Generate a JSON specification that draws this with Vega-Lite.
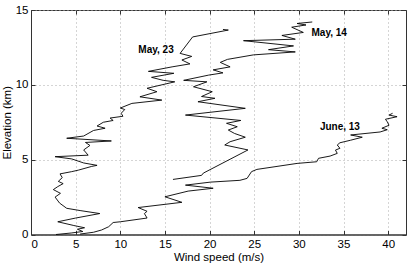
{
  "$schema": "https://vega.github.io/schema/vega-lite/v6.json",
  "width": 375,
  "height": 224.5,
  "autosize": {"type": "none"},
  "padding": {"left": 31, "top": 10, "right": 3, "bottom": 29.5},
  "background": "white",
  "config": {
    "font": "Liberation Sans",
    "view": {"stroke": "#333333", "strokeWidth": 1},
    "axis": {
      "grid": true,
      "gridColor": "#aaaaaa",
      "gridDash": [1, 3],
      "gridWidth": 1,
      "domainColor": "#333333",
      "tickColor": "#333333",
      "tickSize": -4,
      "labelFont": "Liberation Sans",
      "labelFontSize": 11.5,
      "labelColor": "#000000",
      "titleFont": "Liberation Sans",
      "titleFontSize": 11.5,
      "titleFontWeight": "normal",
      "titleColor": "#000000"
    }
  },
  "datasets": {
    "profiles": [
      {"s": "May, 23", "x": 2.8, "h": 0.0},
      {"s": "May, 23", "x": 4.5, "h": 0.1},
      {"s": "May, 23", "x": 5.8, "h": 0.2},
      {"s": "May, 23", "x": 5.2, "h": 0.35},
      {"s": "May, 23", "x": 6.0, "h": 0.45},
      {"s": "May, 23", "x": 4.8, "h": 0.6},
      {"s": "May, 23", "x": 3.0, "h": 0.85},
      {"s": "May, 23", "x": 5.0, "h": 1.1},
      {"s": "May, 23", "x": 7.7, "h": 1.4},
      {"s": "May, 23", "x": 5.5, "h": 1.6},
      {"s": "May, 23", "x": 4.0, "h": 1.75},
      {"s": "May, 23", "x": 3.2, "h": 2.1},
      {"s": "May, 23", "x": 2.7, "h": 2.5},
      {"s": "May, 23", "x": 3.3, "h": 2.75},
      {"s": "May, 23", "x": 2.5, "h": 3.0},
      {"s": "May, 23", "x": 3.0, "h": 3.2},
      {"s": "May, 23", "x": 3.6, "h": 3.4},
      {"s": "May, 23", "x": 3.06, "h": 3.55},
      {"s": "May, 23", "x": 3.5, "h": 3.8},
      {"s": "May, 23", "x": 3.25, "h": 4.05},
      {"s": "May, 23", "x": 4.56, "h": 4.2},
      {"s": "May, 23", "x": 5.3, "h": 4.3},
      {"s": "May, 23", "x": 6.8, "h": 4.55},
      {"s": "May, 23", "x": 7.4, "h": 4.62},
      {"s": "May, 23", "x": 5.9, "h": 4.78},
      {"s": "May, 23", "x": 4.56, "h": 5.05},
      {"s": "May, 23", "x": 2.7, "h": 5.2},
      {"s": "May, 23", "x": 6.4, "h": 5.3},
      {"s": "May, 23", "x": 5.9, "h": 5.65},
      {"s": "May, 23", "x": 6.6, "h": 5.95},
      {"s": "May, 23", "x": 6.1, "h": 6.15},
      {"s": "May, 23", "x": 9.0, "h": 6.25},
      {"s": "May, 23", "x": 4.0, "h": 6.43},
      {"s": "May, 23", "x": 5.9, "h": 6.58},
      {"s": "May, 23", "x": 7.0, "h": 6.95},
      {"s": "May, 23", "x": 8.3, "h": 7.1},
      {"s": "May, 23", "x": 7.4, "h": 7.25},
      {"s": "May, 23", "x": 8.1, "h": 7.5},
      {"s": "May, 23", "x": 9.2, "h": 7.62},
      {"s": "May, 23", "x": 8.86, "h": 7.78},
      {"s": "May, 23", "x": 10.3, "h": 7.9},
      {"s": "May, 23", "x": 10.1, "h": 8.1},
      {"s": "May, 23", "x": 10.5, "h": 8.35},
      {"s": "May, 23", "x": 10.0, "h": 8.45},
      {"s": "May, 23", "x": 11.3, "h": 8.76},
      {"s": "May, 23", "x": 14.65, "h": 8.98},
      {"s": "May, 23", "x": 12.2, "h": 9.2},
      {"s": "May, 23", "x": 14.1, "h": 9.54},
      {"s": "May, 23", "x": 13.0, "h": 9.77},
      {"s": "May, 23", "x": 16.1, "h": 10.2},
      {"s": "May, 23", "x": 14.8, "h": 10.3},
      {"s": "May, 23", "x": 13.5, "h": 10.5},
      {"s": "May, 23", "x": 16.0, "h": 10.77},
      {"s": "May, 23", "x": 13.15, "h": 10.9},
      {"s": "May, 23", "x": 15.8, "h": 11.2},
      {"s": "May, 23", "x": 17.8, "h": 11.4},
      {"s": "May, 23", "x": 16.9, "h": 11.66},
      {"s": "May, 23", "x": 18.0, "h": 11.9},
      {"s": "May, 23", "x": 16.7, "h": 12.1},
      {"s": "May, 23", "x": 18.1, "h": 13.2},
      {"s": "May, 23", "x": 22.1, "h": 13.66},
      {"s": "May, 23", "x": 21.5, "h": 13.7},
      {"s": "May, 14", "x": 15.9, "h": 3.68},
      {"s": "May, 14", "x": 19.1, "h": 3.95},
      {"s": "May, 14", "x": 19.3, "h": 4.1},
      {"s": "May, 14", "x": 24.3, "h": 5.65},
      {"s": "May, 14", "x": 21.7, "h": 5.98},
      {"s": "May, 14", "x": 22.3, "h": 6.2},
      {"s": "May, 14", "x": 24.0, "h": 6.5},
      {"s": "May, 14", "x": 22.8, "h": 6.75},
      {"s": "May, 14", "x": 22.1, "h": 6.98},
      {"s": "May, 14", "x": 23.1, "h": 7.2},
      {"s": "May, 14", "x": 21.9, "h": 7.43},
      {"s": "May, 14", "x": 23.5, "h": 7.62},
      {"s": "May, 14", "x": 17.3, "h": 7.98},
      {"s": "May, 14", "x": 24.0, "h": 8.43},
      {"s": "May, 14", "x": 18.7, "h": 8.87},
      {"s": "May, 14", "x": 20.6, "h": 9.1},
      {"s": "May, 14", "x": 19.1, "h": 9.22},
      {"s": "May, 14", "x": 20.3, "h": 9.54},
      {"s": "May, 14", "x": 18.2, "h": 9.87},
      {"s": "May, 14", "x": 19.7, "h": 10.2},
      {"s": "May, 14", "x": 17.1, "h": 10.3},
      {"s": "May, 14", "x": 19.9, "h": 10.65},
      {"s": "May, 14", "x": 21.5, "h": 10.8},
      {"s": "May, 14", "x": 20.4, "h": 11.0},
      {"s": "May, 14", "x": 22.3, "h": 11.2},
      {"s": "May, 14", "x": 21.2, "h": 11.5},
      {"s": "May, 14", "x": 22.0, "h": 11.7},
      {"s": "May, 14", "x": 24.9, "h": 12.0},
      {"s": "May, 14", "x": 29.6, "h": 12.2},
      {"s": "May, 14", "x": 26.6, "h": 12.35},
      {"s": "May, 14", "x": 29.4, "h": 12.6},
      {"s": "May, 14", "x": 23.8, "h": 12.95},
      {"s": "May, 14", "x": 29.6, "h": 13.05},
      {"s": "May, 14", "x": 28.1, "h": 13.3},
      {"s": "May, 14", "x": 30.5, "h": 13.5},
      {"s": "May, 14", "x": 29.2, "h": 13.85},
      {"s": "May, 14", "x": 30.8, "h": 14.0},
      {"s": "May, 14", "x": 29.8, "h": 14.1},
      {"s": "May, 14", "x": 31.5, "h": 14.2},
      {"s": "June, 13", "x": 5.5, "h": 0.03},
      {"s": "June, 13", "x": 7.0, "h": 0.15},
      {"s": "June, 13", "x": 7.9, "h": 0.3},
      {"s": "June, 13", "x": 8.7, "h": 0.52},
      {"s": "June, 13", "x": 9.2, "h": 0.8},
      {"s": "June, 13", "x": 10.0, "h": 0.85},
      {"s": "June, 13", "x": 13.0, "h": 1.1},
      {"s": "June, 13", "x": 12.7, "h": 1.4},
      {"s": "June, 13", "x": 13.0, "h": 1.55},
      {"s": "June, 13", "x": 12.0, "h": 1.8},
      {"s": "June, 13", "x": 16.9, "h": 2.15},
      {"s": "June, 13", "x": 15.0, "h": 2.52},
      {"s": "June, 13", "x": 17.6, "h": 2.9},
      {"s": "June, 13", "x": 20.4, "h": 3.09},
      {"s": "June, 13", "x": 17.3, "h": 3.3},
      {"s": "June, 13", "x": 20.1, "h": 3.5},
      {"s": "June, 13", "x": 23.4, "h": 3.62},
      {"s": "June, 13", "x": 24.2, "h": 3.75},
      {"s": "June, 13", "x": 24.7, "h": 4.2},
      {"s": "June, 13", "x": 25.3, "h": 4.35},
      {"s": "June, 13", "x": 29.8, "h": 4.75},
      {"s": "June, 13", "x": 32.0, "h": 4.86},
      {"s": "June, 13", "x": 32.2, "h": 5.09},
      {"s": "June, 13", "x": 33.5, "h": 5.24},
      {"s": "June, 13", "x": 34.3, "h": 5.42},
      {"s": "June, 13", "x": 34.1, "h": 5.64},
      {"s": "June, 13", "x": 34.6, "h": 5.76},
      {"s": "June, 13", "x": 34.3, "h": 5.98},
      {"s": "June, 13", "x": 34.6, "h": 6.13},
      {"s": "June, 13", "x": 35.8, "h": 6.3},
      {"s": "June, 13", "x": 37.1, "h": 6.5},
      {"s": "June, 13", "x": 35.8, "h": 6.65},
      {"s": "June, 13", "x": 39.1, "h": 6.85},
      {"s": "June, 13", "x": 39.9, "h": 7.0},
      {"s": "June, 13", "x": 39.3, "h": 7.1},
      {"s": "June, 13", "x": 40.1, "h": 7.3},
      {"s": "June, 13", "x": 39.9, "h": 7.53},
      {"s": "June, 13", "x": 39.7, "h": 7.7},
      {"s": "June, 13", "x": 41.0, "h": 7.87},
      {"s": "June, 13", "x": 40.1, "h": 7.98},
      {"s": "June, 13", "x": 40.5, "h": 8.1}
    ],
    "labels": [
      {"label": "May, 23", "x": 14.0, "h": 12.32},
      {"label": "May, 14", "x": 33.4, "h": 13.44},
      {"label": "June, 13", "x": 34.6, "h": 7.2}
    ]
  },
  "resolve": {"axis": {"x": "independent", "y": "independent"}},
  "layer": [
    {
      "data": {"name": "profiles"},
      "mark": {"type": "line", "color": "#000000", "strokeWidth": 0.9},
      "encoding": {
        "x": {
          "field": "x",
          "type": "quantitative",
          "scale": {"domain": [0, 42], "nice": false, "zero": false},
          "axis": {"values": [0, 5, 10, 15, 20, 25, 30, 35, 40], "title": "Wind speed (m/s)", "labelPadding": 8, "titlePadding": 1}
        },
        "y": {
          "field": "h",
          "type": "quantitative",
          "scale": {"domain": [0, 15], "nice": false},
          "axis": {"values": [0, 5, 10, 15], "title": "Elevation (km)", "labelPadding": 7, "titlePadding": 3}
        },
        "detail": {"field": "s"},
        "order": {"field": "h"}
      }
    },
    {
      "data": {"name": "labels"},
      "mark": {"type": "text", "fontWeight": "bold", "fontSize": 10, "font": "Liberation Sans", "color": "#000000"},
      "encoding": {
        "x": {
          "field": "x",
          "type": "quantitative",
          "axis": {"orient": "top", "values": [0, 5, 10, 15, 20, 25, 30, 35, 40], "labels": false, "grid": false, "domain": false, "title": null}
        },
        "y": {
          "field": "h",
          "type": "quantitative",
          "axis": {"orient": "right", "values": [0, 5, 10, 15], "labels": false, "grid": false, "domain": false, "title": null}
        },
        "text": {"field": "label"}
      }
    }
  ]
}
